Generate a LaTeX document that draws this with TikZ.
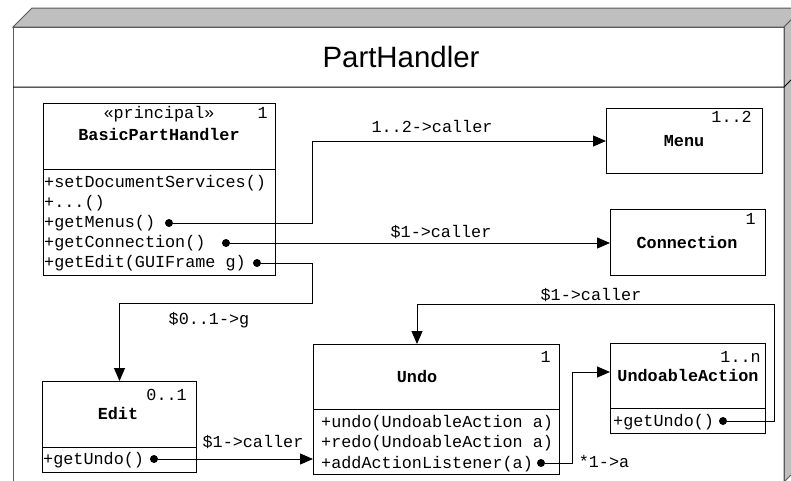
\documentclass[tikz,border=0pt]{standalone}
\usepackage{fontspec}
\setmainfont{Liberation Sans}
\newfontfamily\monofont{Liberation Mono}
\usetikzlibrary{arrows.meta}
\begin{document}
\begin{tikzpicture}[x=1pt,y=-1pt,
  pkg/.style={draw=black!65, line width=1pt},
  cls/.style={draw=black, line width=1pt, fill=white, anchor=north west, inner sep=0pt},
  txt/.style={font=\monofont\fontsize{16.8}{20}\selectfont, inner sep=0pt},
  btxt/.style={font=\monofont\bfseries\fontsize{16.8}{20}\selectfont, inner sep=0pt},
  dotn/.style={circle, fill=black, inner sep=0pt, minimum size=8pt},
  conn/.style={draw=black, line width=1pt},
  arr/.style={conn, -{Triangle[length=13pt,width=11pt]}},
]
\useasboundingbox (0,0) rectangle (791,480);
\begin{scope}
\clip (0,0) rectangle (791,480);
% package frame (3D)
\filldraw[fill=black!25, draw=black!65, line width=1pt] (13,27) -- (32,8) -- (803,8) -- (784,27) -- cycle;
\filldraw[fill=black!25, draw=black!65, line width=1pt] (784,27) -- (803,8) -- (803,463) -- (784,482) -- cycle;
\draw[pkg] (13,27) rectangle (784,482);
\draw[draw=black, line width=1pt] (13,87) -- (784,87) -- (803,68);
\end{scope}
\node[font=\fontsize{29.4}{34}\selectfont, inner sep=0pt, anchor=base] (title) at (401,67) {PartHandler};

% classes
\node[cls, minimum width=232pt, minimum height=172pt] (bph) at (43,103) {};
\draw[conn] ([yshift=-66pt]bph.north west) -- ([yshift=-66pt]bph.north east);
\node[cls, minimum width=156pt, minimum height=65pt] (menu) at (606,108) {};
\node[cls, minimum width=155pt, minimum height=66pt] (conn) at (610,209) {};
\node[cls, minimum width=154pt, minimum height=91pt] (edit) at (42,381) {};
\draw[conn] ([yshift=-66pt]edit.north west) -- ([yshift=-66pt]edit.north east);
\node[cls, minimum width=246pt, minimum height=130pt] (undo) at (313,344) {};
\draw[conn] ([yshift=-65pt]undo.north west) -- ([yshift=-65pt]undo.north east);
\node[cls, minimum width=155pt, minimum height=90pt] (uact) at (610,343) {};
\draw[conn] ([yshift=-65pt]uact.north west) -- ([yshift=-65pt]uact.north east);

% BasicPartHandler texts
\node[txt, anchor=base] (bphst) at (159,118) {«principal»};
\node[txt, anchor=base east] (bphm) at (268,118) {1};
\node[btxt, anchor=base] (bphn) at (159,140) {BasicPartHandler};
\node[txt, anchor=base west] (bph1) at (44,187) {+setDocumentServices()};
\node[txt, anchor=base west] (bph2) at (44,207) {+...()};
\node[txt, anchor=base west] (bph3) at (44,227) {+getMenus()};
\node[txt, anchor=base west] (bph4) at (44,247) {+getConnection()};
\node[txt, anchor=base west] (bph5) at (44,267) {+getEdit(GUIFrame g)};

% Menu
\node[txt, anchor=base east] (menum) at (752,122) {1..2};
\node[btxt, anchor=base] (menun) at (684,146) {Menu};
% Connection
\node[txt, anchor=base east] (connm) at (756,224) {1};
\node[btxt, anchor=base] (connn) at (687,248) {Connection};
% Edit
\node[txt, anchor=base east] (editm) at (187,400) {0..1};
\node[btxt, anchor=base] (editn) at (118,419) {Edit};
\node[txt, anchor=base west] (edit1) at (43,464) {+getUndo()};
% Undo
\node[txt, anchor=base east] (undom) at (551,362) {1};
\node[btxt, anchor=base] (undon) at (417,382) {Undo};
\node[txt, anchor=base west] (undo1) at (321,427) {+undo(UndoableAction a)};
\node[txt, anchor=base west] (undo2) at (321,447.5) {+redo(UndoableAction a)};
\node[txt, anchor=base west] (undo3) at (321,468) {+addActionListener(a)};
% UndoableAction
\node[txt, anchor=base east] (uactm) at (761,362) {1..n};
\node[btxt, anchor=base] (uactn) at (688,381) {UndoableAction};
\node[txt, anchor=base west] (uact1) at (613,426) {+getUndo()};

% dots
\node[dotn] (dm) at (169,223) {};
\node[dotn] (dc) at (226,243) {};
\node[dotn] (de) at (257,263) {};
\node[dotn] (du) at (154,459) {};
\node[dotn] (da) at (541,463) {};
\node[dotn] (dg) at (723,421) {};
\coordinate (undoin) at (417,344);
\coordinate (uactin) at (610,372);

% connectors
\draw[arr] (dm) -- (312,223) |- (menu.west);
\draw[arr] (dc) -- (dc -| conn.west);
\draw[arr] (de) -- (312,263) -- (312,303) -| (edit.north);
\draw[arr] (du) -- (du -| undo.west);
\draw[arr] (dg) -- (774,421) -- (774,304) -| (undoin);
\draw[arr] (da) -- (572,463) -- (572,372) -- (uactin);

% labels
\node[txt, anchor=base] (l1) at (432,132) {1..2->caller};
\node[txt, anchor=base] (l2) at (441,237) {\$1->caller};
\node[txt, anchor=base] (l3) at (209,324) {\$0..1->g};
\node[txt, anchor=base] (l4) at (253,447) {\$1->caller};
\node[txt, anchor=base] (l5) at (591,300) {\$1->caller};
\node[txt, anchor=base] (l6) at (604,467) {*1->a};
\end{tikzpicture}
\end{document}
